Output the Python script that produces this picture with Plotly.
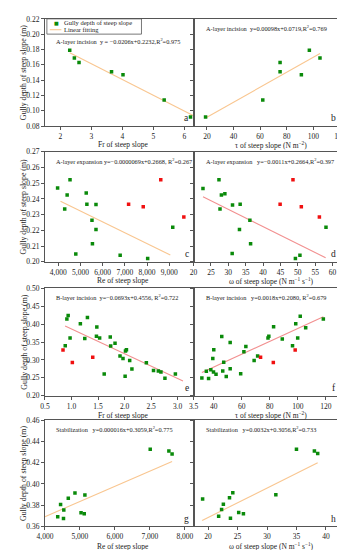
import plotly.graph_objects as go

# ---------------- data ----------------
a_x = [2.3, 2.45, 2.6, 3.65, 4.02, 5.35, 6.2]
a_y = [0.179, 0.169, 0.163, 0.151, 0.147, 0.114, 0.092]
b_x = [97, 105, 75, 75, 91, 62, 19]
b_y = [0.179, 0.169, 0.163, 0.151, 0.147, 0.114, 0.092]

c_green_x = [3970, 4530, 4290, 4400, 4790, 5260, 5290, 5520, 5700, 5540, 5700, 6790, 8030, 9160]
c_green_y = [0.247, 0.2522, 0.2335, 0.2425, 0.205, 0.2438, 0.2366, 0.2265, 0.2364, 0.2115, 0.2205, 0.2042, 0.2021, 0.222]
c_red_x = [7170, 7830, 8620, 9660]
c_red_y = [0.2366, 0.235, 0.2522, 0.2285]

d_green_x = [22.7, 27.3, 27.6, 28.0, 29.0, 31.2, 33.4, 31.1, 36.2, 33.2, 36.4, 49.3, 50.6, 58.1]
d_green_y = [0.2466, 0.2522, 0.2335, 0.2425, 0.2433, 0.2362, 0.2366, 0.2053, 0.2265, 0.2205, 0.2115, 0.2021, 0.2042, 0.222]
d_red_x = [48.6, 44.9, 51.0, 56.2]
d_red_y = [0.2522, 0.2366, 0.235, 0.2285]

e_green_x = [0.913, 0.937, 0.882, 0.973, 1.167, 1.30, 1.25, 1.477, 1.47, 1.53, 1.616, 1.73, 1.738,
             1.82, 1.914, 1.97, 2.017, 2.035, 2.01, 2.096, 2.138, 2.41, 2.545, 2.636, 2.685, 2.76, 2.957]
e_green_y = [0.4147, 0.4239, 0.3394, 0.3615, 0.4009, 0.4183, 0.3596, 0.3917, 0.366, 0.3615, 0.2606,
             0.3642, 0.3385, 0.3468, 0.311, 0.3037, 0.3248, 0.3284, 0.2541, 0.2982, 0.2743, 0.2917,
             0.2706, 0.2688, 0.266, 0.2486, 0.2606]
e_red_x = [0.84, 1.016, 1.40]
e_red_y = [0.3275, 0.2927, 0.3073]

f_green_x = [31.5, 34.7, 36.3, 37.9, 39.3, 39.8, 40.0, 41.6, 45.7, 46.4, 47.1, 48.9, 51.7, 51.7, 59.2,
             61.5, 62.9, 68.8, 71.3, 78.7, 79.3, 82.7, 88.9, 96.2, 98.5, 99.9, 101.7, 105.6, 118.2]
f_green_y = [0.2495, 0.2679, 0.2477, 0.2725, 0.3037, 0.266, 0.3284, 0.2596, 0.3651, 0.2688, 0.2936,
             0.2532, 0.2752, 0.3486, 0.2615, 0.3229, 0.3376, 0.2982, 0.311, 0.3615, 0.366, 0.3927,
             0.3587, 0.3394, 0.4009, 0.3615, 0.422, 0.39, 0.4147]
f_red_x = [73.4, 82.5, 98.1]
f_red_y = [0.3073, 0.2927, 0.3275]

g_x = [4365, 4447, 4539, 4530, 4667, 4858, 5032, 5123, 5142, 7010, 7543, 7635]
g_y = [0.3692, 0.3806, 0.3754, 0.3674, 0.3865, 0.3914, 0.3729, 0.372, 0.3895, 0.4326, 0.4311, 0.4283]
h_x = [19.08, 21.8, 22.3, 22.6, 23.64, 23.8, 24.2, 25.2, 26.0, 31.5, 35.0, 38.04, 38.6]
h_y = [0.3858, 0.3695, 0.376, 0.3809, 0.3871, 0.3677, 0.3917, 0.3732, 0.372, 0.3898, 0.4326, 0.4311, 0.4286]

# fitted lines: slope, intercept, x start, x end
fit_a = (-0.0206, 0.2232, 2.3, 6.3)
fit_b = (0.00098, 0.0719, 19, 105)
fit_c = (-0.0000069, 0.2668, 4100, 9050)
fit_d = (-0.0011, 0.2664, 22.7, 58.0)
fit_e = (-0.0693, 0.4556, 0.88, 3.1)
fit_f = (0.0018, 0.2080, 31.5, 118.2)
fit_g = (0.0000143, 0.3120, 4000, 7635)
fit_h = (0.00277, 0.3130, 19.0, 38.6)

eq_text = {
    "a": "A-layer incision  y = \u22120.0206x+0.2232,R<sup>2</sup>=0.975",
    "b": "A-layer incision  y=0.00098x+0.0719,R<sup>2</sup>=0.769",
    "c": "A-layer expansion y=\u22120.0000069x+0.2668, R<sup>2</sup>=0.267",
    "d": "A-layer expansion   y=\u22120.0011x+0.2664,R<sup>2</sup>=0.397",
    "e": "B-layer incision  y=\u22120.0693x+0.4556, R<sup>2</sup>=0.722",
    "f": "B-layer incision   y=0.0018x+0.2080, R<sup>2</sup>=0.679",
    "g": "Stabilization   y=0.000016x+0.3059,R<sup>2</sup>=0.775",
    "h": "Stabilization   y=0.0032x+0.3056,R<sup>2</sup>=0.733",
}
x_titles = {
    "a": "Fr of steep slope", "b": "\u03c4 of steep slope (N m<sup>\u22122</sup>)",
    "c": "Re of steep slope", "d": "\u03c9 of steep slope (N m<sup>\u22121</sup> s<sup>\u22121</sup>)",
    "e": "Fr of steep slope", "f": "\u03c4 of steep slope (N m<sup>\u22122</sup>)",
    "g": "Re of steep slope", "h": "\u03c9 of steep slope (N m<sup>\u22121</sup> s<sup>\u22121</sup>)",
}
y_title = "Gully depth of steep slope (m)"
legend_labels = ["Gully depth of steep slope", "Linear fitting"]

# ---------------- layout helpers ----------------
W, H = 345, 550
FONT = "Liberation Serif, Times New Roman, serif"
GREEN = "#0a8a0a"
RED = "#f01010"
ORANGE = "#f9c690"
PINK = "#f29090"
TXT = "#222222"
AXCOL = "#555555"

col_px = [(30, 184), (184, 337)]
row_px = [(7, 116), (142, 254), (281, 390), (415, 523)]
xt_y = [135, 273, 410, 543]

panels = [
    ("a", 0, 0, [1.5, 6.3], [2, 3, 4, 5, 6], None, None, [0.08, 0.22],
     [0.08, 0.10, 0.12, 0.14, 0.16, 0.18, 0.20, 0.22], (a_x, a_y), None, fit_a, ORANGE),
    ("b", 0, 1, [10, 121], [20, 40, 60, 80, 100, 120], None, None, [0.08, 0.22],
     [0.08, 0.10, 0.12, 0.14, 0.16, 0.18, 0.20, 0.22], (b_x, b_y), None, fit_b, ORANGE),
    ("c", 1, 0, [3400, 10100], [4000, 5000, 6000, 7000, 8000, 9000], None, ",d", [0.20, 0.27],
     [0.20, 0.21, 0.22, 0.23, 0.24, 0.25, 0.26, 0.27], (c_green_x, c_green_y), (c_red_x, c_red_y), fit_c, ORANGE),
    ("d", 1, 1, [20, 62.5], [20, 25, 30, 35, 40, 45, 50, 55, 60], None, None, [0.20, 0.27],
     [0.20, 0.21, 0.22, 0.23, 0.24, 0.25, 0.26, 0.27], (d_green_x, d_green_y), (d_red_x, d_red_y), fit_d, PINK),
    ("e", 2, 0, [0.5, 3.3], [0.5, 1.0, 1.5, 2.0, 2.5, 3.0], None, ".1f", [0.20, 0.50],
     [0.20, 0.25, 0.30, 0.35, 0.40, 0.45, 0.50], (e_green_x, e_green_y), (e_red_x, e_red_y), fit_e, PINK),
    ("f", 2, 1, [25.6, 131], [25.6, 40, 60, 80, 100, 120], ["3.5", "40", "60", "80", "100", "120"], None,
     [0.20, 0.50], [0.20, 0.25, 0.30, 0.35, 0.40, 0.45, 0.50], (f_green_x, f_green_y), (f_red_x, f_red_y), fit_f, PINK),
    ("g", 3, 0, [4000, 8250], [4000, 5000, 6000, 7000, 8000], None, ",d", [0.36, 0.46],
     [0.36, 0.38, 0.40, 0.42, 0.44, 0.46], (g_x, g_y), None, fit_g, ORANGE),
    ("h", 3, 1, [17.55, 42.6], [20, 25, 30, 35, 40], None, None, [0.36, 0.46],
     [0.36, 0.38, 0.40, 0.42, 0.44, 0.46], (h_x, h_y), None, fit_h, ORANGE),
]

fig = go.Figure()
annotations = []
shapes = []

for i, (key, r, c, xr, xtv, xtt, xfmt, yr, ytv, green, red, fit, lcol) in enumerate(panels):
    n = i + 1
    xa = "x" if n == 1 else f"x{n}"
    ya = "y" if n == 1 else f"y{n}"
    xl = "xaxis" if n == 1 else f"xaxis{n}"
    yl = "yaxis" if n == 1 else f"yaxis{n}"
    x0, x1 = col_px[c]
    yt, yb = row_px[r]
    common = dict(showline=True, linecolor=AXCOL, linewidth=1, mirror=True, ticks="outside",
                  ticklen=3, tickcolor=AXCOL, tickwidth=1, showgrid=False, zeroline=False,
                  tickfont=dict(family=FONT, size=7.5, color=TXT))
    xaxis = dict(domain=[x0 / W, x1 / W], range=xr, anchor=ya, tickvals=xtv, **common)
    if xtt is not None:
        xaxis["ticktext"] = xtt
    if xfmt:
        xaxis["tickformat"] = xfmt
    yaxis = dict(domain=[1 - yb / H, 1 - yt / H], range=yr, anchor=xa, tickvals=ytv,
                 tickformat=".2f", showticklabels=(c == 0), **common)
    fig.update_layout({xl: xaxis, yl: yaxis})

    s, b0, fx0, fx1 = fit
    fx = [fx0, fx1]
    fy = [s * v + b0 for v in fx]
    fig.add_trace(go.Scatter(x=fx, y=fy, mode="lines", line=dict(color=lcol, width=1.1),
                             xaxis=xa, yaxis=ya, showlegend=False, hoverinfo="skip"))
    fig.add_trace(go.Scatter(x=green[0], y=green[1], mode="markers",
                             marker=dict(symbol="square", size=3.5, color=GREEN),
                             xaxis=xa, yaxis=ya, showlegend=False))
    if red is not None:
        fig.add_trace(go.Scatter(x=red[0], y=red[1], mode="markers",
                                 marker=dict(symbol="square", size=3.5, color=RED),
                                 xaxis=xa, yaxis=ya, showlegend=False))

    # equation text
    annotations.append(dict(text=eq_text[key], x=(x0 + (9 if c == 0 else 11)) / W,
                            y=1 - (yt + (22 if key == "a" else 9)) / H,
                            xref="paper", yref="paper", xanchor="left", yanchor="middle",
                            showarrow=False, font=dict(family=FONT, size=6.3, color=TXT)))
    # panel letter
    annotations.append(dict(text=key, x=(x1 - 3) / W, y=1 - (yb - 8) / H, xref="paper", yref="paper",
                            xanchor="right", yanchor="middle", showarrow=False,
                            font=dict(family=FONT, size=9.5, color=TXT)))
    # x title
    annotations.append(dict(text=x_titles[key], x=((x0 + x1) / 2 + 4) / W, y=1 - xt_y[r] / H,
                            xref="paper", yref="paper", xanchor="center", yanchor="middle",
                            showarrow=False, font=dict(family=FONT, size=7.5, color=TXT)))
    if c == 0:
        annotations.append(dict(text=y_title, x=8 / W, y=1 - ((yt + yb) / 2) / H, xref="paper",
                                yref="paper", xanchor="center", yanchor="middle", textangle=-90,
                                showarrow=False, font=dict(family=FONT, size=7.8, color=TXT)))

# legend box for panel a (drawn as text with coloured glyphs)
shapes.append(dict(type="rect", xref="paper", yref="paper", x0=32 / W, x1=130 / W,
                   y0=1 - 22.5 / H, y1=1 - 7 / H, line=dict(color=AXCOL, width=0.8),
                   fillcolor="white", layer="below"))
annotations.append(dict(text=f"<span style='color:{GREEN}'>\u25a0</span>", x=42 / W, y=1 - 11 / H,
                        xref="paper", yref="paper", xanchor="center", yanchor="middle",
                        showarrow=False, font=dict(family="DejaVu Sans", size=5)))
annotations.append(dict(text=legend_labels[0], x=48 / W, y=1 - 11 / H, xref="paper", yref="paper",
                        xanchor="left", yanchor="middle", showarrow=False,
                        font=dict(family=FONT, size=6.5, color=TXT)))
shapes.append(dict(type="line", xref="paper", yref="paper", x0=35 / W, x1=47 / W,
                   y0=1 - 18 / H, y1=1 - 18 / H, line=dict(color=ORANGE, width=1.1)))
annotations.append(dict(text=legend_labels[1], x=48 / W, y=1 - 18 / H, xref="paper", yref="paper",
                        xanchor="left", yanchor="middle", showarrow=False,
                        font=dict(family=FONT, size=6.5, color=TXT)))

fig.update_layout(
    width=W, height=H, margin=dict(l=0, r=0, t=0, b=0),
    paper_bgcolor="white", plot_bgcolor="white",
    annotations=annotations, shapes=shapes,
    showlegend=False,
)

fig.write_html("out.html")
